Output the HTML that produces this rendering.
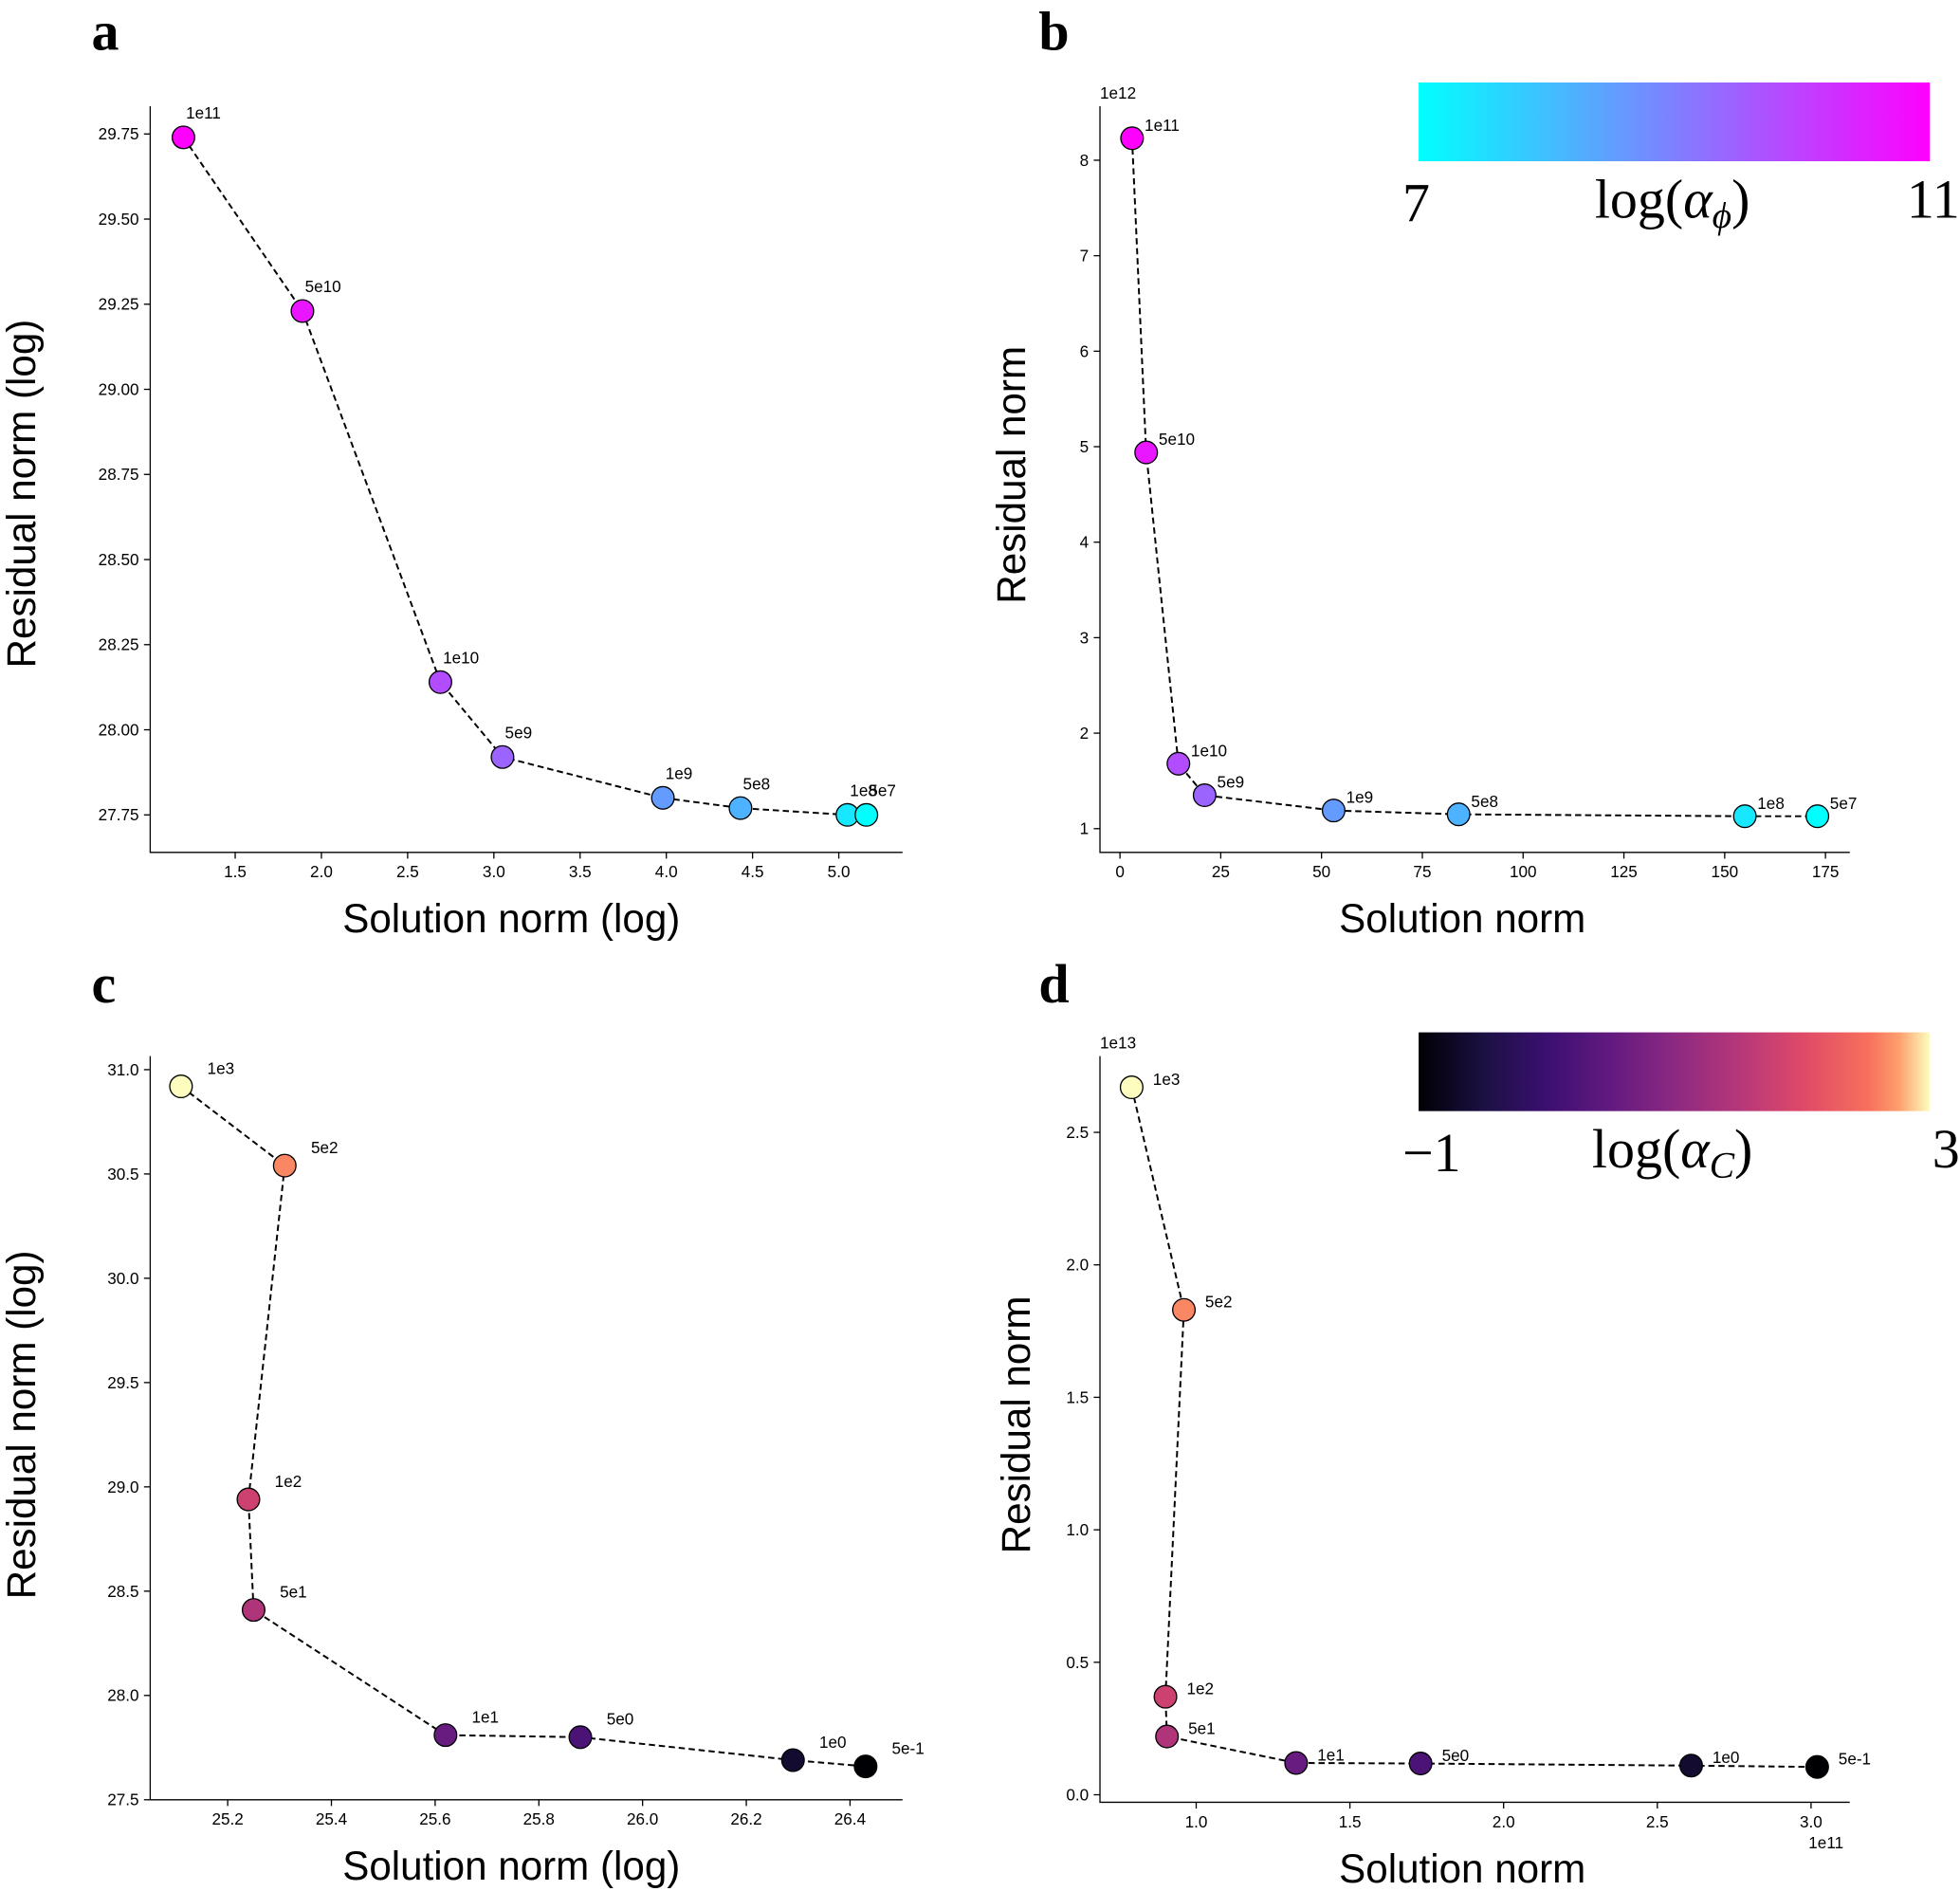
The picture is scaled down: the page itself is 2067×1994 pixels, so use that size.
<!DOCTYPE html>
<html><head><meta charset="utf-8"><style>
html,body{margin:0;padding:0;background:#fff;}
svg{display:block;}
text{font-family:"Liberation Sans",sans-serif;}
</style></head><body>
<svg id="fig" width="2067" height="1994" viewBox="0 0 1568 1513" xmlns="http://www.w3.org/2000/svg">
<defs>
<linearGradient id="coolGrad" x1="0" x2="1" y1="0" y2="0">
<stop offset="0" stop-color="#00ffff"/><stop offset="1" stop-color="#ff00ff"/></linearGradient>
<linearGradient id="magmaGrad" x1="0" x2="1" y1="0" y2="0">
<stop offset="0" stop-color="#000004"/><stop offset="0.13" stop-color="#1c1044"/><stop offset="0.25" stop-color="#3b0f70"/><stop offset="0.38" stop-color="#641a80"/><stop offset="0.5" stop-color="#8c2981"/><stop offset="0.63" stop-color="#b73779"/><stop offset="0.75" stop-color="#de4968"/><stop offset="0.88" stop-color="#f7705c"/><stop offset="0.94" stop-color="#fe9f6d"/><stop offset="1" stop-color="#fcfdbf"/></linearGradient>
</defs>
<g id="root"></g>
</svg>
<script>
const labelsPhi = ["1e11","5e10","1e10","5e9","1e9","5e8","1e8","5e7"];
const logPhi = [11,10.7,10,9.7,9,8.7,8,7.7];
const aX = [1.2,1.89,2.69,3.05,3.98,4.43,5.05,5.16];
const aY = [29.74,29.23,28.14,27.92,27.80,27.77,27.75,27.75];
const bX = [3,6.5,14.5,21,53,84,155,173];
const bY = [8.23,4.94,1.68,1.35,1.19,1.15,1.13,1.13];
const labelsC = ["1e3","5e2","1e2","5e1","1e1","5e0","1e0","5e-1"];
const logC = [3,2.7,2,1.7,1,0.7,0,-0.3];
const cX = [25.11,25.31,25.24,25.25,25.62,25.88,26.29,26.43];
const cY = [30.92,30.54,28.94,28.41,27.81,27.80,27.69,27.66];
const dX = [0.79,0.96,0.90,0.905,1.325,1.73,2.61,3.02];
const dY = [2.67,1.83,0.37,0.22,0.12,0.118,0.11,0.105];
const aXTicks = [1.5,2.0,2.5,3.0,3.5,4.0,4.5,5.0];
const aYTicks = [27.75,28.00,28.25,28.50,28.75,29.00,29.25,29.50,29.75];
const bXTicks = [0,25,50,75,100,125,150,175];
const bYTicks = [1,2,3,4,5,6,7,8];
const cXTicks = [25.2,25.4,25.6,25.8,26.0,26.2,26.4];
const cYTicks = [27.5,28.0,28.5,29.0,29.5,30.0,30.5,31.0];
const dXTicks = [1.0,1.5,2.0,2.5,3.0];
const dYTicks = [0.0,0.5,1.0,1.5,2.0,2.5];

const NS="http://www.w3.org/2000/svg";
const root=document.getElementById('root');
function el(tag,attrs,parent,txt){const e=document.createElementNS(NS,tag);for(const k in attrs)e.setAttribute(k,attrs[k]);if(txt!==undefined)e.textContent=txt;(parent||root).appendChild(e);return e;}
const phiMin=Math.min(...logPhi), phiMax=Math.max(...logPhi);
const cMin=Math.min(...logC), cMax=Math.max(...logC);
function cool(v){const t=Math.max(0,Math.min(1,(v-phiMin)/(phiMax-phiMin)));return `rgb(${Math.round(255*t)},${Math.round(255*(1-t))},255)`;}
const mstops=[[0,[0,0,4]],[0.13,[28,16,68]],[0.25,[59,15,112]],[0.38,[100,26,128]],[0.5,[140,41,129]],[0.63,[183,55,121]],[0.75,[222,73,104]],[0.88,[247,112,92]],[0.94,[254,159,109]],[1,[252,253,191]]];
function magma(v){const t=Math.max(0,Math.min(1,(v-cMin)/(cMax-cMin)));for(let i=1;i<mstops.length;i++){if(t<=mstops[i][0]){const a=mstops[i-1],b=mstops[i];const f=(t-a[0])/(b[0]-a[0]);return `rgb(${a[1].map((c,j)=>Math.round(c+(b[1][j]-c)*f)).join(',')})`;}}return 'rgb(252,253,191)';}

function panel(p){
  const g=el('g',{});
  
  
  const sx=v=>p.x0px+(v-p.x0)*p.xs;
  const sy=v=>p.y0px-(v-p.y0)*p.ys;
  const ax=el('path',{d:`M${p.L},${p.T}V${p.B}H${p.R}`,fill:'none',stroke:'#000','stroke-width':1},g);
  
  
  p.xt.forEach(v=>{const x=sx(v);el('line',{x1:x,x2:x,y1:p.B,y2:p.B+5,stroke:'#000'},g);
    const t=el('text',{x:x,y:p.B+20,'font-size':13,'text-anchor':'middle'},g,p.xf(v));
    
    });
  p.yt.forEach(v=>{const y=sy(v);el('line',{x1:p.L-5,x2:p.L,y1:y,y2:y,stroke:'#000'},g);
    const t=el('text',{x:p.L-9,y:y+4.5,'font-size':13,'text-anchor':'end'},g,p.yf(v));
    
    });
  const d=p.X.map((v,i)=>(i?'L':'M')+sx(v)+','+sy(p.Y[i])).join('');
  const ln=el('path',{d:d,fill:'none',stroke:'#000','stroke-width':1.5,'stroke-dasharray':'5,3'},g);
  
  
  p.X.forEach((v,i)=>{
    const c=el('circle',{cx:sx(v),cy:sy(p.Y[i]),r:9,fill:p.cmap(p.C[i]),stroke:'#000','stroke-width':1},g);
    
    
    const t=el('text',{x:sx(v)+p.ldx,y:sy(p.Y[i])+p.ldy,'font-size':13},g,p.labels[i]);
    
    
  });
  const xt=el('text',{x:p.xlc,y:p.B+64,'font-size':32,'text-anchor':'middle'},g,p.xl);
  
  
  const yc=p.ylc, yx=p.ylx;
  const yt=el('text',{x:yx,y:yc,'font-size':32,'text-anchor':'middle',transform:`rotate(-90 ${yx} ${yc})`},g,p.yl);
  
  
  const lt=el('text',{x:p.lx,y:p.ly,style:'font-family:"Liberation Serif",serif;font-size:44px;font-weight:bold'},g,p.id);
  
  
  if(p.off){p.off.forEach(o=>{const t=el('text',{x:o[0],y:o[1],'font-size':13},g,o[2]);
    
    });}
  return g;
}
const f2=v=>v.toFixed(2), f1=v=>v.toFixed(1), f0=v=>String(v);
panel({id:'a',L:120,R:722,T:85,B:682,x0:1.5,x0px:188,xs:138,y0:27.75,y0px:652,ys:272.4,xt:aXTicks,yt:aYTicks,xf:f1,yf:f2,X:aX,Y:aY,C:logPhi,cmap:cool,labels:labelsPhi,ldx:2,ldy:-15,xl:'Solution norm (log)',yl:'Residual norm (log)',lx:73,ly:40,xlc:409,ylx:28,ylc:395});
panel({id:'b',L:880,R:1480,T:85,B:682,x0:0,x0px:896,xs:3.226,y0:1,y0px:663,ys:76.4,xt:bXTicks,yt:bYTicks,xf:f0,yf:f0,X:bX,Y:bY,C:logPhi,cmap:cool,labels:labelsPhi,ldx:10,ldy:-6,xl:'Solution norm',yl:'Residual norm',lx:831,ly:40,off:[[880,79,'1e12']],xlc:1170,ylx:820,ylc:380});
panel({id:'c',L:120,R:722,T:845,B:1440,x0:25.2,x0px:182,xs:415,y0:27.5,y0px:1440,ys:166.9,xt:cXTicks,yt:cYTicks,xf:f1,yf:f1,X:cX,Y:cY,C:logC,cmap:magma,labels:labelsC,ldx:21,ldy:-10,xl:'Solution norm (log)',yl:'Residual norm (log)',lx:73,ly:802,xlc:409,ylx:28,ylc:1140});
panel({id:'d',L:880,R:1480,T:845,B:1442,x0:1.0,x0px:957,xs:246,y0:0,y0px:1436,ys:212,xt:dXTicks,yt:dYTicks,xf:f1,yf:f1,X:dX,Y:dY,C:logC,cmap:magma,labels:labelsC,ldx:17,ldy:-2,xl:'Solution norm',yl:'Residual norm',lx:831,ly:802,off:[[880,839,'1e13'],[1447,1479,'1e11']],xlc:1170,ylx:824,ylc:1140});

function cbar(y,grad,lo,sub,hi,name){
  const g=el('g',{});
  
  
  el('rect',{x:1135,y:y,width:409,height:63,fill:`url(#${grad})`},g);
  const st='font-family:"Liberation Serif",serif;font-size:44px';
  el('text',{x:1122,y:y+111,style:st},g,lo);
  const m=el('text',{x:1338,y:y+108,'text-anchor':'middle',style:st},g);
  el('tspan',{},m,'log(');
  el('tspan',{style:'font-style:italic'},m,'α');
  el('tspan',{style:'font-style:italic;font-size:30px',dy:8},m,sub);
  el('tspan',{dy:-8},m,')');
  el('text',{x:1568,y:y+108,'text-anchor':'end',style:st},g,hi);
}
cbar(66,'coolGrad','7','\u03D5','11','colorbar-alpha-phi');
cbar(826,'magmaGrad','\u22121','C','3','colorbar-alpha-c');
</script>
</body></html>
